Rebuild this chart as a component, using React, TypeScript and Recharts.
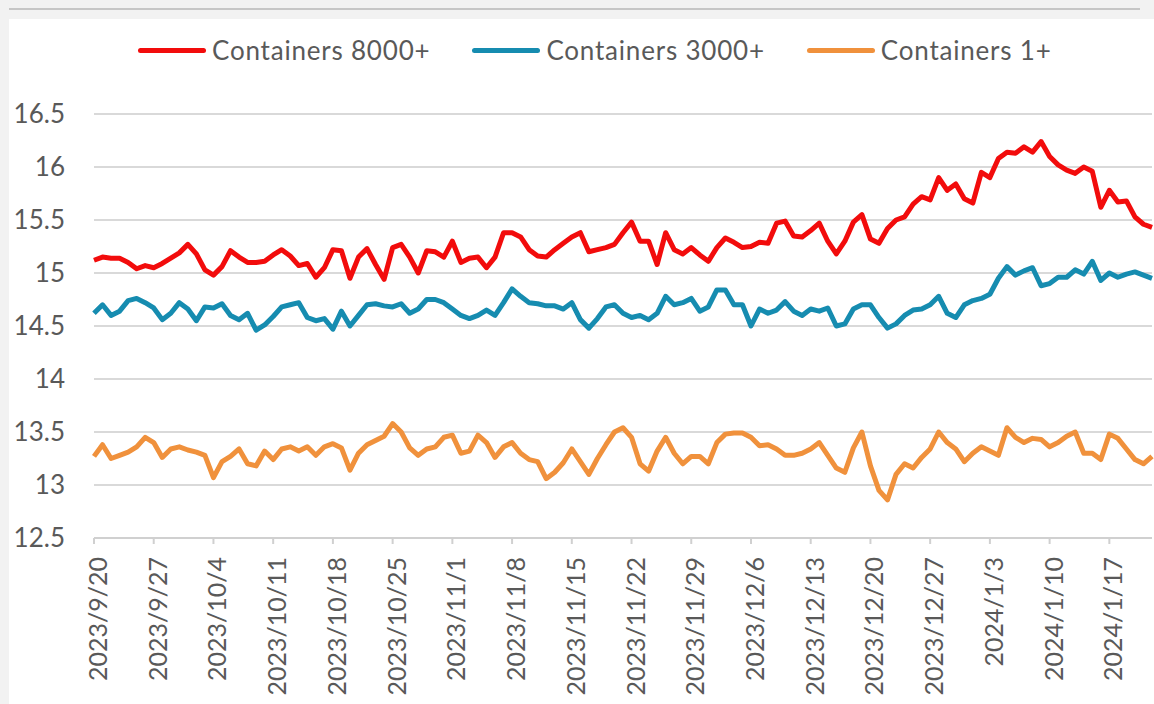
import { LineChart, Line, XAxis, YAxis, CartesianGrid } from 'recharts'

// daily readings, starting 2023/9/20
const START = { year: 2023, month: 9, day: 20 }

const containers8000 = [
  15.12, 15.15, 15.14, 15.14, 15.10, 15.04, 15.07, 15.05, 15.09, 15.14,
  15.19, 15.27, 15.18, 15.03, 14.98, 15.06, 15.21, 15.15, 15.10, 15.10,
  15.11, 15.17, 15.22, 15.16, 15.07, 15.09, 14.96, 15.05, 15.22, 15.21,
  14.95, 15.15, 15.23, 15.08, 14.94, 15.24, 15.27, 15.15, 15.00, 15.21,
  15.20, 15.15, 15.30, 15.10, 15.14, 15.15, 15.05, 15.15, 15.38, 15.38,
  15.34, 15.22, 15.16, 15.15, 15.22, 15.28, 15.34, 15.38, 15.20, 15.22,
  15.24, 15.27, 15.38, 15.48, 15.30, 15.30, 15.08, 15.38, 15.22, 15.18,
  15.24, 15.17, 15.11, 15.24, 15.33, 15.29, 15.24, 15.25, 15.29, 15.28,
  15.47, 15.49, 15.35, 15.34, 15.40, 15.47, 15.30, 15.18, 15.30, 15.48,
  15.55, 15.32, 15.28, 15.42, 15.50, 15.53, 15.65, 15.72, 15.69, 15.90,
  15.78, 15.84, 15.70, 15.66, 15.95, 15.90, 16.08, 16.14, 16.13, 16.19,
  16.14, 16.24, 16.10, 16.02, 15.97, 15.94, 16.00, 15.96, 15.62, 15.78,
  15.67, 15.68, 15.53, 15.46, 15.43
]

const containers3000 = [
  14.62, 14.70, 14.60, 14.64, 14.74, 14.76, 14.72, 14.67, 14.56, 14.62,
  14.72, 14.66, 14.55, 14.68, 14.67, 14.71, 14.60, 14.56, 14.62, 14.46,
  14.51, 14.59, 14.68, 14.70, 14.72, 14.58, 14.55, 14.57, 14.47, 14.64,
  14.50, 14.60, 14.70, 14.71, 14.69, 14.68, 14.71, 14.62, 14.66, 14.75,
  14.75, 14.72, 14.66, 14.60, 14.57, 14.60, 14.65, 14.60, 14.72, 14.85,
  14.78, 14.72, 14.71, 14.69, 14.69, 14.66, 14.72, 14.56, 14.48, 14.57,
  14.68, 14.70, 14.62, 14.58, 14.60, 14.56, 14.62, 14.78, 14.70, 14.72,
  14.76, 14.64, 14.68, 14.84, 14.84, 14.70, 14.70, 14.50, 14.66, 14.62,
  14.65, 14.73, 14.64, 14.60, 14.66, 14.64, 14.67, 14.50, 14.52, 14.66,
  14.70, 14.70, 14.58, 14.48, 14.52, 14.60, 14.65, 14.66, 14.70, 14.78,
  14.62, 14.58, 14.70, 14.74, 14.76, 14.80, 14.95, 15.06, 14.98, 15.02,
  15.05, 14.88, 14.90, 14.96, 14.96, 15.03, 14.99, 15.11, 14.93, 15.00,
  14.96, 14.99, 15.01, 14.98, 14.95
]

const containers1 = [
  13.27, 13.38, 13.25, 13.28, 13.31, 13.36, 13.45, 13.40, 13.26, 13.34,
  13.36, 13.33, 13.31, 13.28, 13.07, 13.22, 13.27, 13.34, 13.20, 13.18,
  13.32, 13.24, 13.34, 13.36, 13.32, 13.36, 13.28, 13.36, 13.39, 13.35,
  13.14, 13.30, 13.38, 13.42, 13.46, 13.58, 13.50, 13.35, 13.28, 13.34,
  13.36, 13.45, 13.47, 13.30, 13.32, 13.47, 13.40, 13.26, 13.36, 13.40,
  13.30, 13.24, 13.22, 13.06, 13.12, 13.21, 13.34, 13.22, 13.10, 13.25,
  13.38, 13.50, 13.54, 13.45, 13.20, 13.13, 13.32, 13.45, 13.30, 13.20,
  13.27, 13.27, 13.20, 13.40, 13.48, 13.49, 13.49, 13.45, 13.37, 13.38,
  13.34, 13.28, 13.28, 13.30, 13.34, 13.40, 13.28, 13.16, 13.12, 13.35,
  13.50, 13.18, 12.95, 12.86, 13.10, 13.20, 13.16, 13.26, 13.34, 13.50,
  13.40, 13.34, 13.22, 13.30, 13.36, 13.32, 13.28, 13.54, 13.45, 13.40,
  13.44, 13.43, 13.36, 13.40, 13.46, 13.50, 13.30, 13.30, 13.24, 13.48,
  13.44, 13.34, 13.24, 13.20, 13.27
]

const yTicks = [12.5, 13, 13.5, 14, 14.5, 15, 15.5, 16, 16.5]

const series = [
  { key: 'c8000', name: 'Containers 8000+', color: '#f20c0c', values: containers8000 },
  { key: 'c3000', name: 'Containers 3000+', color: '#168cb0', values: containers3000 },
  { key: 'c1', name: 'Containers 1+', color: '#f0913c', values: containers1 }
]

const FONT = 'Lato, "Open Sans", sans-serif'
const TEXT = '#595959'
const GRID = '#d9d9d9'

function dayLabel(i: number): string {
  const d = new Date(START.year, START.month - 1, START.day + i)
  return `${d.getFullYear()}/${d.getMonth() + 1}/${d.getDate()}`
}

const data = containers8000.map((_, i) => {
  const row: Record<string, string | number> = { date: dayLabel(i) }
  series.forEach((s) => {
    row[s.key] = s.values[i]
  })
  return row
})

function DateTick(props: any) {
  const { x, y, payload } = props
  return (
    <text
      x={x}
      y={y}
      dy={13}
      transform={`rotate(-90, ${x}, ${y})`}
      textAnchor="end"
      fontSize={25}
      fontFamily={FONT}
      fill={TEXT}
    >
      {payload.value}
    </text>
  )
}

export default function App() {
  return (
    <div
      style={{
        position: 'absolute',
        left: 0,
        top: 0,
        width: 1154,
        height: 704,
        background: '#f2f2f2',
        overflow: 'hidden'
      }}
    >
      {/* thin rule above the chart */}
      <div
        style={{ position: 'absolute', left: 9, top: 8, width: 1131, height: 2, background: '#c6c6c6' }}
      />
      <div
        style={{ position: 'absolute', left: 9, top: 19, width: 1145, height: 685, background: '#fff' }}
      >
        {/* legend */}
        <div
          style={{
            position: 'absolute',
            left: 129,
            top: 16,
            height: 30,
            display: 'flex',
            alignItems: 'center',
            fontFamily: FONT,
            fontSize: 26,
            letterSpacing: 0.8,
            color: TEXT,
            whiteSpace: 'nowrap',
            zIndex: 2
          }}
        >
          {series.map((s) => (
            <div key={s.key} style={{ display: 'flex', alignItems: 'center', marginRight: 42 }}>
              <span
                style={{
                  display: 'inline-block',
                  width: 68,
                  height: 5,
                  borderRadius: 3,
                  background: s.color,
                  marginRight: 6
                }}
              />
              <span>{s.name}</span>
            </div>
          ))}
        </div>

        <LineChart
          width={1145}
          height={685}
          data={data}
          margin={{ top: 95, right: 2, bottom: 0, left: 0 }}
        >
          <CartesianGrid horizontal vertical={false} stroke={GRID} strokeWidth={2} />
          <XAxis
            dataKey="date"
            interval={6}
            height={166}
            tickSize={6}
            tickMargin={13}
            axisLine={{ stroke: '#d0d0d0', strokeWidth: 2 }}
            tickLine={{ stroke: '#d0d0d0', strokeWidth: 2 }}
            tick={<DateTick />}
          />
          <YAxis
            domain={[12.5, 16.5]}
            ticks={yTicks}
            width={85}
            axisLine={false}
            tickLine={false}
            tickSize={6}
            tickMargin={23}
            tick={{ fontSize: 26, fill: TEXT, fontFamily: FONT }}
          />
          {series.map((s) => (
            <Line
              key={s.key}
              dataKey={s.key}
              name={s.name}
              stroke={s.color}
              strokeWidth={5}
              strokeLinejoin="round"
              dot={false}
              activeDot={false}
              isAnimationActive={false}
            />
          ))}
        </LineChart>
      </div>
    </div>
  )
}
